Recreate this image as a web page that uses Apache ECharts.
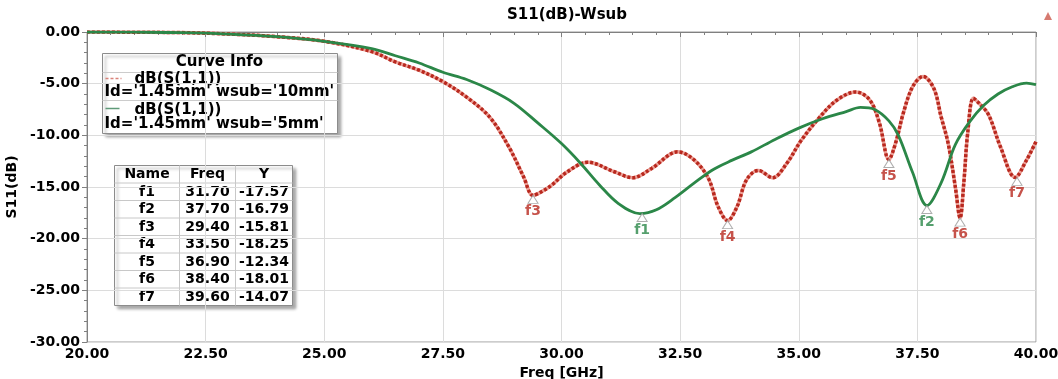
<!DOCTYPE html>
<html>
<head>
<meta charset="utf-8">
<script src="https://cdn.jsdelivr.net/npm/echarts@6/dist/echarts.min.js"></script>
<style>
  html, body { margin: 0; padding: 0; background: #fff; }
  #chart { width: 1058px; height: 379px; }
</style>
</head>
<body>
<div id="chart"></div>
<script>
// wsub = 10mm trace (red, dotted)
const freqRed = [20, 21, 22, 23, 24, 25, 26, 26.5, 27, 27.5, 28, 28.5, 28.9, 29.2, 29.4, 29.6, 29.8, 30.1, 30.55, 31.1, 31.5, 31.9, 32.45, 32.8, 33.1, 33.3, 33.5, 33.7, 33.9, 34.15, 34.45, 34.75, 35.05, 35.45, 35.8, 36.2, 36.5, 36.7, 36.9, 37.05, 37.2, 37.4, 37.62, 37.85, 38.0, 38.15, 38.3, 38.4, 38.48, 38.56, 38.68, 38.8, 39.0, 39.25, 39.56, 39.8, 40];
const redY = [0, -0.02, -0.06, -0.2, -0.45, -0.9, -1.9, -2.9, -3.7, -4.8, -6.3, -8.3, -11.2, -14.0, -15.81, -15.4, -14.8, -13.6, -12.6, -13.5, -14.1, -13.2, -11.6, -12.4, -14.2, -16.9, -18.25, -16.9, -14.3, -13.4, -14.1, -12.7, -10.5, -8.2, -6.6, -5.8, -6.6, -8.8, -12.34, -10.6, -7.9, -5.3, -4.3, -5.5, -8.2, -10.8, -15.0, -18.01, -14.5, -9.8, -6.4, -6.9, -8.0, -11.1, -14.07, -12.4, -10.6];

// wsub = 5mm trace (green, solid)
const freqGreen = [20, 21, 22, 23, 24, 25, 26, 26.5, 27, 27.5, 28, 28.5, 29, 29.5, 30, 30.4, 30.8, 31.2, 31.65, 32.0, 32.4, 32.8, 33.2, 33.6, 34, 34.5, 35, 35.5, 36, 36.3, 36.6, 36.9, 37.1, 37.4, 37.7, 38, 38.3, 38.6, 38.9, 39.2, 39.5, 39.8, 40];
const greenY = [0, -0.02, -0.06, -0.2, -0.45, -0.9, -1.6, -2.3, -3.0, -3.9, -4.6, -5.6, -6.9, -8.8, -10.8, -12.7, -14.8, -16.6, -17.57, -17.2, -16.0, -14.6, -13.3, -12.4, -11.6, -10.4, -9.3, -8.4, -7.7, -7.3, -7.5, -8.6, -10.0, -13.6, -16.79, -14.6, -10.9, -8.7, -7.1, -6.0, -5.3, -4.95, -5.1];

// markers
const markerNames = ['f1', 'f2', 'f3', 'f4', 'f5', 'f6', 'f7'];
const markerFreq = [31.70, 37.70, 29.40, 33.50, 36.90, 38.40, 39.60];
const markerY = [-17.57, -16.79, -15.81, -18.25, -12.34, -18.01, -14.07];
const markerTrace = ['5mm', '5mm', '10mm', '10mm', '10mm', '10mm', '10mm'];

const legendLines = ["Id='1.45mm' wsub='10mm'", "Id='1.45mm' wsub='5mm'"];
const tableHeader = ['Name', 'Freq', 'Y'];

const RED = '#b8281e';
const GREEN = '#2b8748';
const FONT = 'DejaVu Sans';

const pairs = (xs, ys) => xs.map((x, i) => [x, ys[i]]);

function markerData(trace) {
    const out = [];
    markerNames.forEach((n, i) => {
        if (markerTrace[i] === trace) out.push({ name: n, value: [markerFreq[i], markerY[i]] });
    });
    return out;
}

function markerSeries(trace, color) {
    return {
        type: 'scatter',
        data: markerData(trace),
        symbol: 'triangle',
        symbolSize: [10, 8],
        symbolOffset: [0, 4],
        itemStyle: { color: '#fff', borderColor: '#9a9a9a', borderWidth: 1 },
        label: {
            show: true, position: 'bottom', distance: 1,
            formatter: p => p.name,
            color: color, fontFamily: FONT, fontWeight: 'bold', fontSize: 14
        },
        z: 5
    };
}

const boxStyle = { fill: '#fff', stroke: '#8c8c8c', lineWidth: 1,
    shadowBlur: 3, shadowOffsetX: 3, shadowOffsetY: 3, shadowColor: 'rgba(0,0,0,0.35)' };
const txt = (x, y, s, extra) => ({ type: 'text', x: x, y: y,
    style: Object.assign({ text: s, verticalAlign: 'middle', font: 'bold 15px "' + FONT + '"', fill: '#000' }, extra || {}) });

// legend box (Curve Info)
const legendGroup = {
    type: 'group', left: 100, top: 53, z: 100,
    children: [
        { type: 'rect', shape: { x: 0, y: 0, width: 235, height: 80 }, style: boxStyle },
        { type: 'line', shape: { x1: 0, y1: 19, x2: 235, y2: 19 }, style: { stroke: '#ccc' } },
        { type: 'line', shape: { x1: 0, y1: 47, x2: 235, y2: 47 }, style: { stroke: '#ccc' } },
        txt(117, 9, 'Curve Info', { align: 'center' }),
        { type: 'line', shape: { x1: 3, y1: 25, x2: 19, y2: 25 }, style: { stroke: '#d9827a', lineWidth: 1.5, lineDash: [3, 2] } },
        txt(32, 26, 'dB(S(1,1))'),
        txt(2, 39, legendLines[0]),
        { type: 'line', shape: { x1: 3, y1: 55, x2: 17, y2: 55 }, style: { stroke: '#5f9a78', lineWidth: 1.5 } },
        txt(32, 57, 'dB(S(1,1))'),
        txt(2, 71, legendLines[1])
    ]
};

// marker table
const colW = [65, 56, 57];
const rowH = 17.5;
const tableRows = [tableHeader].concat(markerNames.map((n, i) => [n, markerFreq[i].toFixed(2), markerY[i].toFixed(2)]));
const tableW = colW.reduce((a, b) => a + b, 0);
const tableH = rowH * tableRows.length;
const tableChildren = [
    { type: 'rect', shape: { x: 0, y: 0, width: tableW, height: tableH }, style: boxStyle }
];
for (let r = 1; r < tableRows.length; r++) {
    tableChildren.push({ type: 'line', shape: { x1: 0, y1: r * rowH, x2: tableW, y2: r * rowH }, style: { stroke: '#c8c8c8' } });
}
let cx = 0;
colW.forEach((w, c) => {
    if (c > 0) tableChildren.push({ type: 'line', shape: { x1: cx, y1: 0, x2: cx, y2: tableH }, style: { stroke: '#c8c8c8' } });
    tableRows.forEach((row, r) => {
        tableChildren.push(txt(cx + w / 2, r * rowH + rowH / 2 + 0.5, row[c], { align: 'center', font: 'bold 14px "' + FONT + '"' }));
    });
    cx += w;
});
const tableGroup = { type: 'group', left: 112, top: 163, z: 100, children: tableChildren };

const axisText = { fontFamily: FONT, fontWeight: 'bold', fontSize: 14, color: '#000' };

const chart = echarts.init(document.getElementById('chart'), null, { renderer: 'canvas' });
chart.setOption({
    animation: false,
    backgroundColor: '#fff',
    title: {
        text: 'S11(dB)-Wsub', left: 562, top: 3, textAlign: 'center',
        textStyle: { fontFamily: FONT, fontWeight: 'bold', fontSize: 15, color: '#000' }
    },
    grid: { left: 87, right: 22, top: 32, bottom: 37, outerBoundsMode: 'none',
            show: true, borderColor: '#9a9a9a', borderWidth: 1 },
    xAxis: {
        type: 'value', min: 20, max: 40, interval: 2.5,
        name: 'Freq [GHz]', nameLocation: 'middle', nameGap: 22,
        nameTextStyle: axisText,
        axisLine: { show: true, lineStyle: { color: '#808080' } },
        axisTick: { show: true, length: 5, lineStyle: { color: '#808080' } },
        minorTick: { show: true, splitNumber: 5, length: 3, lineStyle: { color: '#808080' } },
        splitLine: { show: true, lineStyle: { color: '#dcdcdc' } },
        axisLabel: Object.assign({ formatter: v => v.toFixed(2), margin: 5 }, axisText)
    },
    yAxis: {
        type: 'value', min: -30, max: 0, interval: 5,
        name: 'S11(dB)', nameLocation: 'middle', nameGap: 66, nameRotate: 90,
        nameTextStyle: axisText,
        axisLine: { show: true, lineStyle: { color: '#808080' } },
        axisTick: { show: true, length: 5, lineStyle: { color: '#808080' } },
        minorTick: { show: true, splitNumber: 5, length: 3, lineStyle: { color: '#808080' } },
        splitLine: { show: true, lineStyle: { color: '#dcdcdc' } },
        axisLabel: Object.assign({ formatter: v => v.toFixed(2), margin: 7 }, axisText)
    },
    series: [
        {
            type: 'line', data: pairs(freqRed, redY), smooth: 0.35, showSymbol: false, silent: true,
            lineStyle: { color: '#ec9f96', width: 3.5 }, z: 2
        },
        {
            type: 'line', data: pairs(freqRed, redY), smooth: 0.35, showSymbol: false, silent: true,
            lineStyle: { color: RED, width: 3.5, type: [3, 2] }, z: 3
        },
        {
            type: 'line', data: pairs(freqGreen, greenY), smooth: 0.35, showSymbol: false, silent: true,
            lineStyle: { color: GREEN, width: 2.8 }, z: 4
        },
        markerSeries('5mm', GREEN),
        markerSeries('10mm', RED)
    ],
    graphic: [
        legendGroup,
        tableGroup,
        { type: 'polygon', shape: { points: [[1044, 20], [1052, 20], [1048, 12]] }, style: { fill: '#d67a70' } }
    ]
});
</script>
</body>
</html>
